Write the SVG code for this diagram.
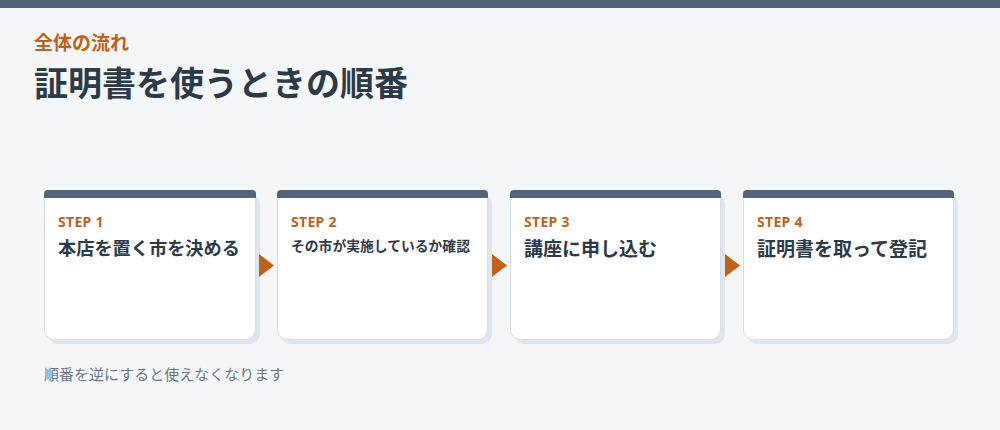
<svg xmlns="http://www.w3.org/2000/svg" width="1000" height="430" viewBox="0 0 1000 430">
<style>
.jp{font-family:"Noto Sans CJK JP","Noto Sans",sans-serif;}
.step{font-family:"Noto Sans","Noto Sans CJK JP",sans-serif;font-weight:700;font-size:14px;fill:#c0611a;letter-spacing:0.3px;}
.lbl{font-family:"Noto Sans CJK JP","Noto Sans",sans-serif;font-weight:700;fill:#2d3a48;}
.card{fill:#ffffff;stroke:#d6dde6;stroke-width:1;}
.shadow{fill:#dfe5ed;}
.bar{fill:#536478;}
.arrow{fill:#c0611a;}
</style>
<rect width="1000" height="430" fill="#f5f6f8"/>
<rect width="1000" height="8" fill="#536478"/>
<text x="34" y="50" class="jp" font-size="19" font-weight="700" fill="#c0611a">全体の流れ</text>
<text x="34" y="96" class="jp" font-size="34" font-weight="700" fill="#2d3a48">証明書を使うときの順番</text>

<g id="step1">
<rect class="shadow" x="48" y="194" width="212" height="150" rx="10"/>
<rect class="card" x="44.5" y="190.5" width="211" height="149" rx="10"/>
<path class="bar" d="M48,190 H252 A4,4 0 0 1 256,194 V198 H44 V194 A4,4 0 0 1 48,190 Z"/>
<text x="58" y="227" class="step">STEP 1</text>
<text x="58" y="255" class="lbl" font-size="18.2">本店を置く市を決める</text>
</g>
<g id="step2">
<rect class="shadow" x="281" y="194" width="211" height="150" rx="10"/>
<rect class="card" x="277.5" y="190.5" width="210" height="149" rx="10"/>
<path class="bar" d="M281,190 H484 A4,4 0 0 1 488,194 V198 H277 V194 A4,4 0 0 1 281,190 Z"/>
<text x="291" y="227" class="step">STEP 2</text>
<text x="291" y="251" class="lbl" font-size="13.8">その市が実施しているか確認</text>
</g>
<g id="step3">
<rect class="shadow" x="514" y="194" width="211" height="150" rx="10"/>
<rect class="card" x="510.5" y="190.5" width="210" height="149" rx="10"/>
<path class="bar" d="M514,190 H717 A4,4 0 0 1 721,194 V198 H510 V194 A4,4 0 0 1 514,190 Z"/>
<text x="524" y="227" class="step">STEP 3</text>
<text x="524" y="256" class="lbl" font-size="19">講座に申し込む</text>
</g>
<g id="step4">
<rect class="shadow" x="747" y="194" width="211" height="150" rx="10"/>
<rect class="card" x="743.5" y="190.5" width="210" height="149" rx="10"/>
<path class="bar" d="M747,190 H950 A4,4 0 0 1 954,194 V198 H743 V194 A4,4 0 0 1 747,190 Z"/>
<text x="757" y="227" class="step">STEP 4</text>
<text x="757" y="256" class="lbl" font-size="19">証明書を取って登記</text>
</g>

<g id="connectors">
<polygon class="arrow" points="259,254 274,265.5 259,277"/>
<polygon class="arrow" points="492,254 507,265.5 492,277"/>
<polygon class="arrow" points="725,254 740,265.5 725,277"/>
</g>

<text x="44" y="380" class="jp" font-size="15" fill="#6b7684">順番を逆にすると使えなくなります</text>
</svg>
